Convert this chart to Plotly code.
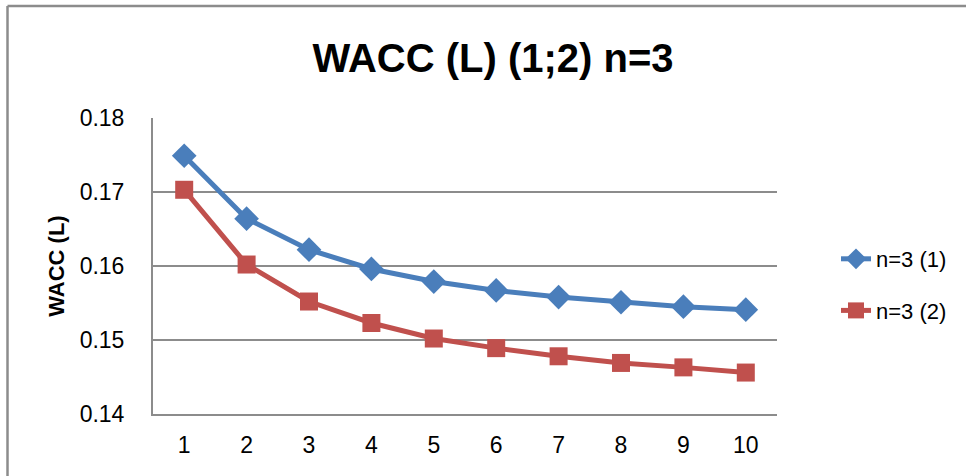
import plotly.graph_objects as go

x_vals = [1, 2, 3, 4, 5, 6, 7, 8, 9, 10]
series1_name = "n=3 (1)"
series1 = [0.1749, 0.1664, 0.1622, 0.1596, 0.1579, 0.1567, 0.1558, 0.1551, 0.1545, 0.1541]
series2_name = "n=3 (2)"
series2 = [0.1703, 0.1602, 0.1552, 0.1523, 0.1502, 0.1489, 0.1478, 0.1469, 0.1463, 0.1456]
title_text = "WACC (L) (1;2) n=3"
y_title = "WACC (L)"

W, H = 966, 476
L, R, T, B = 153, 777, 118, 414
pw, ph = R - L, B - T

def px(xp):
    return (xp - L) / pw

def py(yp):
    return (B - yp) / ph

fig = go.Figure()
fig.add_trace(go.Scatter(
    x=x_vals, y=series1, name=series1_name, mode="lines+markers",
    line=dict(color="#4A7EBB", width=5),
    marker=dict(symbol="diamond", size=19, color="#4A7EBB"),
    legendgroup="a",
))
fig.add_trace(go.Scatter(
    x=x_vals, y=series2, name=series2_name, mode="lines+markers",
    line=dict(color="#C0504D", width=5),
    marker=dict(symbol="square", size=18, color="#C0504D"),
    legendgroup="b",
))

font_family = "Liberation Sans, Arial, sans-serif"

fig.update_layout(
    width=W, height=H,
    margin=dict(l=L, r=W - R, t=T, b=H - B, pad=0),
    paper_bgcolor="white", plot_bgcolor="white",
    font=dict(family=font_family, color="black", size=23),
    title=dict(text="<b>" + title_text + "</b>", x=493 / W, xanchor="center",
               y=1 - 58 / H, yanchor="middle",
               font=dict(size=40, family=font_family, color="black")),
    showlegend=True,
    legend=dict(x=px(836), y=py(285), xanchor="left", yanchor="middle",
                font=dict(size=22, family=font_family),
                traceorder="grouped", tracegroupgap=20,
                bgcolor="rgba(0,0,0,0)"),
    xaxis=dict(range=[0.5, 10.5], tickmode="array", tickvals=x_vals,
               ticktext=[str(v) for v in x_vals],
               showgrid=False, zeroline=False, showline=True,
               linecolor="#8C8C8C", linewidth=2, ticks="",
               ticklabelstandoff=9, tickfont=dict(size=23)),
    yaxis=dict(range=[0.14, 0.18], dtick=0.01, tick0=0.14, tickformat=".2f",
               showgrid=True, gridcolor="#8C8C8C", gridwidth=1.5,
               zeroline=False, showline=True, linecolor="#8C8C8C", linewidth=2,
               ticks="", ticklabelstandoff=22, tickfont=dict(size=23),
               title=dict(text="<b>" + y_title + "</b>", font=dict(size=22),
                          standoff=9)),
    shapes=[
        dict(type="line", xref="paper", yref="paper",
             x0=px(7.5), x1=px(7.5), y0=py(480), y1=py(6),
             line=dict(color="#8C8C8C", width=2.5), layer="below"),
        dict(type="line", xref="paper", yref="paper",
             x0=px(7.5), x1=px(970), y0=py(6), y1=py(6),
             line=dict(color="#8C8C8C", width=2.5), layer="below"),
    ],
)

fig.write_html("out.html", config={"displayModeBar": False},
               post_script="document.body.style.margin='0';")
